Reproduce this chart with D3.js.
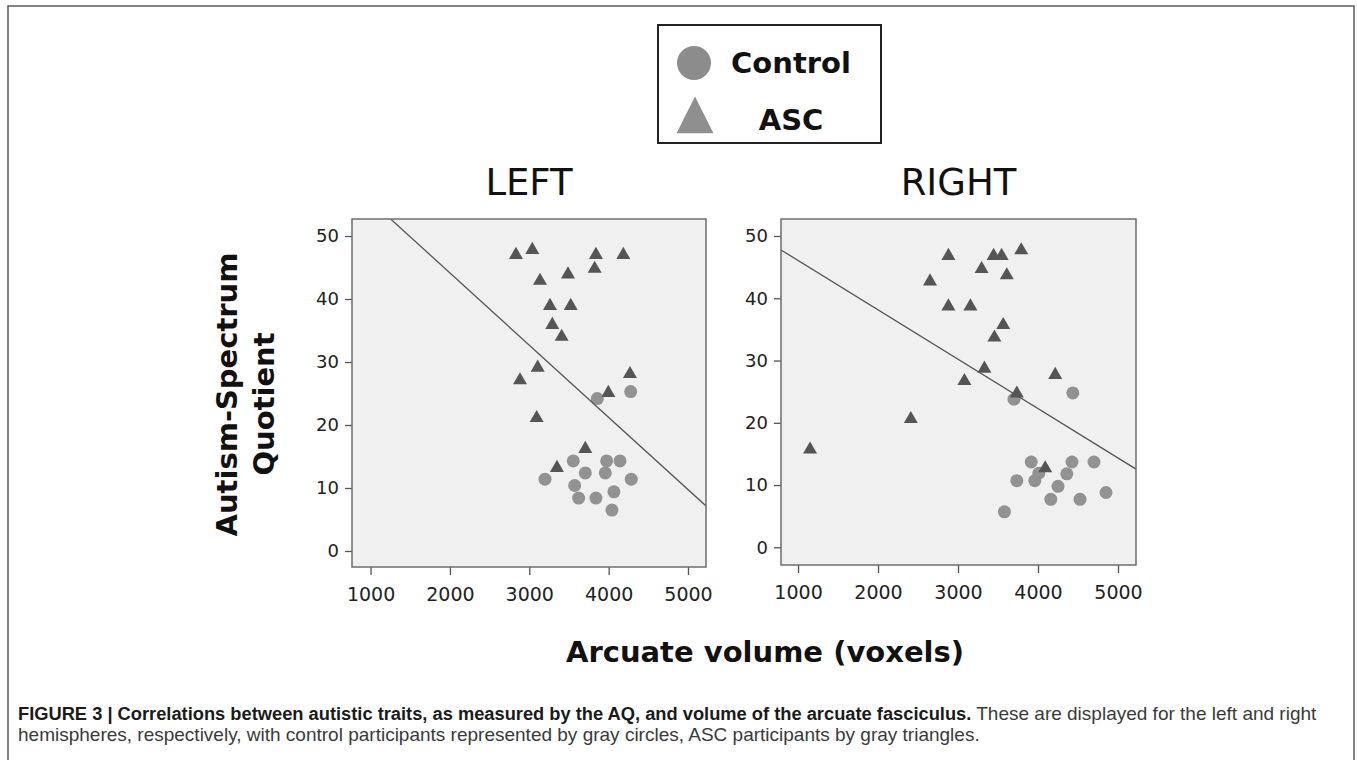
<!DOCTYPE html>
<html>
<head>
<meta charset="utf-8">
<script src="https://cdn.jsdelivr.net/npm/d3@7"></script>
<style>
  body { margin: 0; background: #ffffff; }
</style>
</head>
<body>
<div id="figure3"></div>
<script>
// values
const x_ticks = [1000, 2000, 3000, 4000, 5000];
const y_ticks = [0, 10, 20, 30, 40, 50];

const left_control_x = [3857, 4278, 3198, 3554, 3706, 3975, 4143, 3958, 4285, 3572, 3622, 3840, 4067, 4042];
const left_control_y = [24.2, 25.3, 11.4, 14.3, 12.4, 14.3, 14.3, 12.4, 11.4, 10.4, 8.4, 8.4, 9.4, 6.5];
const left_asc_x = [2832, 3038, 3840, 4185, 3824, 3488, 3135, 3261, 3522, 3290, 3408, 3106, 2883, 4269, 3996, 3093, 3706, 3349];
const left_asc_y = [47, 47.8, 47, 47, 44.8, 43.9, 42.9, 38.9, 38.9, 35.9, 34, 29.1, 27.1, 28.1, 25.1, 21.1, 16.2, 13.2];
const left_fit = [67.06, -0.01146];   // intercept, slope

const right_control_x = [3700, 4435, 3915, 4425, 4700, 4010, 3735, 3960, 4360, 4250, 4160, 4525, 4850, 3580];
const right_control_y = [23.8, 24.8, 13.7, 13.7, 13.7, 11.9, 10.7, 10.7, 11.8, 9.8, 7.7, 7.7, 8.8, 5.7];
const right_asc_x = [2880, 3445, 3545, 3790, 3295, 3610, 2650, 2880, 3155, 3565, 3455, 3330, 3080, 4215, 3735, 2410, 1150, 4090];
const right_asc_y = [46.8, 46.8, 46.8, 47.7, 44.7, 43.7, 42.7, 38.7, 38.7, 35.7, 33.7, 28.7, 26.7, 27.7, 24.7, 20.6, 15.7, 12.7];
const right_fit = [54.0, -0.00793];

const legend_labels = ["Control", "ASC"];

function generate_figure3() {
  const W = 1357, H = 760;

  const svg = d3.select("#figure3")
    .append("svg")
      .attr("width", W)
      .attr("height", H)
      .style("font-family", "'DejaVu Sans', sans-serif");

  // outer frame of the figure
  svg.append("rect")
    .attr("x", 8).attr("y", 6)
    .attr("width", 1346).attr("height", 780)
    .attr("fill", "none")
    .attr("stroke", "#5a5a5a")
    .attr("stroke-width", 1.5);

  // legend
  const legend = svg.append("g");
  legend.append("rect")
    .attr("x", 658).attr("y", 25)
    .attr("width", 223).attr("height", 118)
    .attr("fill", "#fff")
    .attr("stroke", "#222")
    .attr("stroke-width", 2);
  legend.append("circle")
    .attr("cx", 694).attr("cy", 63).attr("r", 17)
    .attr("fill", "#8c8c8c");
  legend.append("path")
    .attr("d", d3.symbol().type(d3.symbolTriangle).size(590)())
    .attr("transform", "translate(695,121) scale(1,1.15)")
    .attr("fill", "#8f8f8f");
  legend.selectAll("text.leg")
    .data(legend_labels)
    .join("text")
      .attr("class", "leg")
      .attr("x", 791)
      .attr("y", (d, i) => i === 0 ? 73 : 130)
      .attr("text-anchor", "middle")
      .style("font-weight", "bold")
      .style("font-size", "29px")
      .attr("fill", "#111")
      .text(d => d);

  const panels = [
    {name: "LEFT", id: "clip_left", x0: 352, x1: 706, y0: 219, y1: 567, xdom: [766, 5227], ydom: [-2.54, 52.7],
     cx: left_control_x, cy: left_control_y, ax: left_asc_x, ay: left_asc_y, fit: left_fit},
    {name: "RIGHT", id: "clip_right", x0: 781, x1: 1136, y0: 219, y1: 565, xdom: [787, 5225], ydom: [-2.84, 52.73],
     cx: right_control_x, cy: right_control_y, ax: right_asc_x, ay: right_asc_y, fit: right_fit}
  ];

  panels.forEach(function(p) {
    const x = d3.scaleLinear().domain(p.xdom).range([p.x0, p.x1]);
    const y = d3.scaleLinear().domain(p.ydom).range([p.y1, p.y0]);

    svg.append("clipPath")
      .attr("id", p.id)
      .append("rect")
        .attr("x", p.x0).attr("y", p.y0)
        .attr("width", p.x1 - p.x0).attr("height", p.y1 - p.y0);

    // plot background
    svg.append("rect")
      .attr("x", p.x0).attr("y", p.y0)
      .attr("width", p.x1 - p.x0).attr("height", p.y1 - p.y0)
      .attr("fill", "#f0f0f0");

    // panel title
    svg.append("text")
      .attr("x", (p.x0 + p.x1) / 2)
      .attr("y", 195)
      .attr("text-anchor", "middle")
      .style("font-size", "37px")
      .attr("fill", "#111")
      .text(p.name);

    // axes
    const xAxis = svg.append("g")
      .attr("transform", `translate(0, ${p.y1})`)
      .call(d3.axisBottom(x).tickValues(x_ticks).tickSize(8).tickPadding(13).tickFormat(d3.format("d")));
    const yAxis = svg.append("g")
      .attr("transform", `translate(${p.x0}, 0)`)
      .call(d3.axisLeft(y).tickValues(y_ticks).tickSize(7).tickPadding(6));
    [xAxis, yAxis].forEach(function(g) {
      g.select(".domain").remove();
      g.selectAll(".tick line").attr("stroke", "#555").attr("stroke-width", 1.3);
      g.selectAll(".tick text").attr("fill", "#222").style("font-family", "'DejaVu Sans', sans-serif");
    });
    xAxis.selectAll(".tick text").style("font-size", "19px");
    yAxis.selectAll(".tick text").style("font-size", "18px");

    const plot = svg.append("g").attr("clip-path", `url(#${p.id})`);

    // control participants: circles
    plot.selectAll("circle.control")
      .data(d3.range(p.cx.length))
      .join("circle")
        .attr("class", "control")
        .attr("cx", i => x(p.cx[i]))
        .attr("cy", i => y(p.cy[i]))
        .attr("r", 6.5)
        .attr("fill", "#929292");

    // ASC participants: triangles
    plot.selectAll("path.asc")
      .data(d3.range(p.ax.length))
      .join("path")
        .attr("class", "asc")
        .attr("d", d3.symbol().type(d3.symbolTriangle).size(85)())
        .attr("transform", i => `translate(${x(p.ax[i])}, ${y(p.ay[i])})`)
        .attr("fill", "#555");

    // fit line
    const line = d3.line()
      .x(d => x(d))
      .y(d => y(p.fit[0] + p.fit[1] * d));
    plot.append("path")
      .attr("d", line(p.xdom))
      .attr("fill", "none")
      .attr("stroke", "#555")
      .attr("stroke-width", 1.3);

    // frame
    svg.append("rect")
      .attr("x", p.x0).attr("y", p.y0)
      .attr("width", p.x1 - p.x0).attr("height", p.y1 - p.y0)
      .attr("fill", "none")
      .attr("stroke", "#6e6e6e")
      .attr("stroke-width", 1.5);
  });

  // axis titles
  svg.append("text")
    .attr("transform", "translate(237, 394.5) rotate(-90)")
    .attr("text-anchor", "middle")
    .style("font-weight", "bold")
    .style("font-size", "29px")
    .attr("fill", "#111")
    .text("Autism-Spectrum");
  svg.append("text")
    .attr("transform", "translate(274, 404) rotate(-90)")
    .attr("text-anchor", "middle")
    .style("font-weight", "bold")
    .style("font-size", "29px")
    .attr("fill", "#111")
    .text("Quotient");
  svg.append("text")
    .attr("x", 765)
    .attr("y", 662)
    .attr("text-anchor", "middle")
    .style("font-weight", "bold")
    .style("font-size", "29px")
    .attr("fill", "#111")
    .text("Arcuate volume (voxels)");

  // caption
  const cap = svg.append("text")
    .attr("x", 18)
    .attr("y", 720)
    .style("font-family", "'Liberation Sans', Arial, sans-serif");
  cap.append("tspan")
    .style("font-weight", "bold")
    .style("font-size", "18.3px")
    .attr("fill", "#1a1a1a")
    .text("FIGURE 3 | Correlations between autistic traits, as measured by the AQ, and volume of the arcuate fasciculus.");
  cap.append("tspan")
    .style("font-size", "19px")
    .attr("fill", "#3a3a3a")
    .text(" These are displayed for the left and right");
  svg.append("text")
    .attr("x", 18)
    .attr("y", 741)
    .style("font-family", "'Liberation Sans', Arial, sans-serif")
    .style("font-size", "19px")
    .attr("fill", "#3a3a3a")
    .text("hemispheres, respectively, with control participants represented by gray circles, ASC participants by gray triangles.");
}

generate_figure3();
</script>
</body>
</html>
